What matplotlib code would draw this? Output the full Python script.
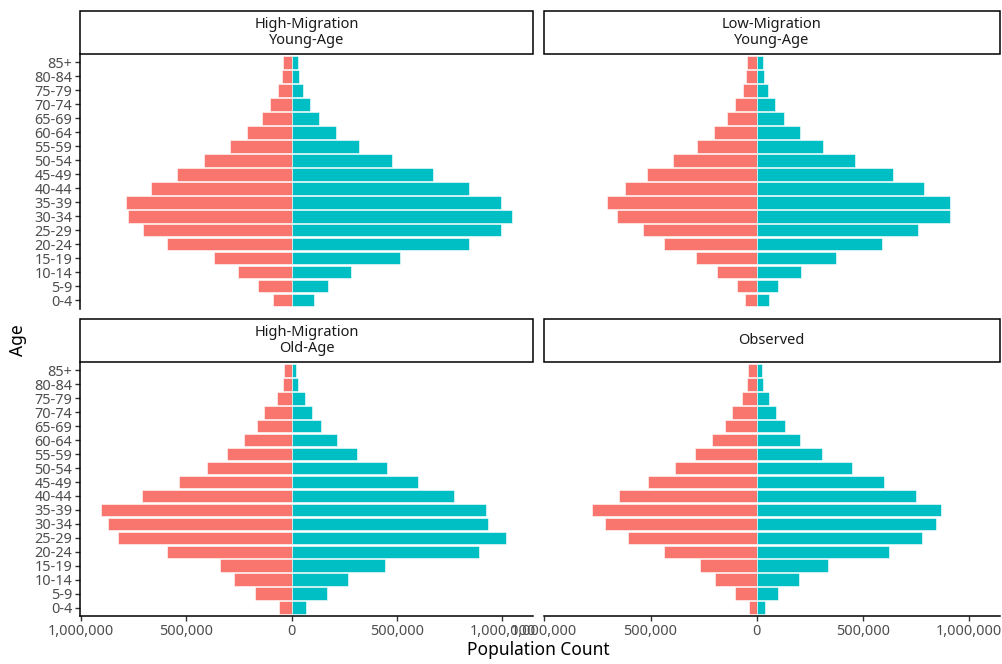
import numpy as np
import matplotlib
matplotlib.use("Agg")
import matplotlib.pyplot as plt
from matplotlib.patches import Rectangle
from matplotlib.ticker import FixedLocator, FuncFormatter

plt.rcParams["font.family"] = ["Noto Sans", "DejaVu Sans"]

age_groups = ["0-4", "5-9", "10-14", "15-19", "20-24", "25-29", "30-34", "35-39",
              "40-44", "45-49", "50-54", "55-59", "60-64", "65-69", "70-74",
              "75-79", "80-84", "85+"]

scenarios = ["High-Migration\nYoung-Age", "Low-Migration\nYoung-Age",
             "High-Migration\nOld-Age", "Observed"]

# Counts per age group (youngest first); left side of each pyramid, then right side
hm_young_left = [88000, 160000, 252000, 368000, 590000, 704000, 777000, 787000,
                 668000, 542000, 414000, 290000, 210000, 140000, 104000, 67000,
                 47000, 42000]
hm_young_right = [104000, 173000, 282000, 513000, 839000, 993000, 1047000, 993000,
                  840000, 669000, 477000, 321000, 210000, 130000, 86000, 54000,
                  34000, 28000]

lm_young_left = [54000, 95000, 187000, 284000, 438000, 537000, 657000, 706000,
                 621000, 517000, 395000, 281000, 203000, 138000, 102000, 67000,
                 49000, 48000]
lm_young_right = [59000, 100000, 208000, 371000, 590000, 760000, 910000, 908000,
                  789000, 640000, 462000, 313000, 203000, 127000, 84000, 51000,
                  33000, 29000]

hm_old_left = [59000, 174000, 274000, 342000, 590000, 823000, 871000, 906000,
               710000, 536000, 401000, 305000, 225000, 163000, 129000, 70000,
               42000, 34000]
hm_old_right = [68000, 169000, 265000, 445000, 888000, 1018000, 933000, 922000,
                772000, 598000, 451000, 311000, 213000, 138000, 96000, 62000,
                28000, 21000]

obs_left = [37000, 103000, 198000, 268000, 438000, 608000, 713000, 775000,
            646000, 513000, 387000, 290000, 213000, 149000, 116000, 68000,
            46000, 41000]
obs_right = [38000, 98000, 198000, 333000, 621000, 776000, 843000, 867000,
             751000, 597000, 446000, 308000, 205000, 132000, 89000, 56000,
             29000, 24000]

lefts = [hm_young_left, lm_young_left, hm_old_left, obs_left]
rights = [hm_young_right, lm_young_right, hm_old_right, obs_right]

left_color = "#F8766D"
right_color = "#00BFC4"

W, H = 1002, 664
fig = plt.figure(figsize=(W / 100, H / 100), dpi=100)

# panel boxes in pixels: (x0, x1, y_top, y_bottom)
col_x = [(80, 533), (543.5, 1000)]
row_y = [(54, 308.5), (362, 616)]
strip_h = 43

# shared x range with 5% expansion
all_vals = np.concatenate([-np.array(l) for l in lefts] + [np.array(r) for r in rights])
lo, hi = all_vals.min(), all_vals.max()
pad = 0.05 * (hi - lo)
xlim = (lo - pad, hi + pad)

n = len(age_groups)
ypos = np.arange(1, n + 1)
ticks = [-1_000_000, -500_000, 0, 500_000, 1_000_000]

text_gray = "#4D4D4D"

for i, name in enumerate(scenarios):
    r, c = divmod(i, 2)
    x0, x1 = col_x[c]
    yt, yb = row_y[r]
    ax = fig.add_axes([x0 / W, 1 - yb / H, (x1 - x0) / W, (yb - yt) / H])
    ax.barh(ypos, -np.array(lefts[i]), height=0.9, color=left_color,
            edgecolor="white", linewidth=0.4)
    ax.barh(ypos, rights[i], height=0.9, color=right_color,
            edgecolor="white", linewidth=0.4)
    ax.set_xlim(*xlim)
    ax.set_ylim(0.4, n + 0.6)
    for s in ax.spines.values():
        s.set_visible(False)

    ax.tick_params(axis="both", length=3.5, width=1.0, color="#333333",
                   labelsize=10.4, labelcolor=text_gray, pad=2)
    if c == 0:
        ax.spines["left"].set_visible(True)
        ax.spines["left"].set_linewidth(1.1)
        ax.set_yticks(ypos)
        ax.set_yticklabels(age_groups)
    else:
        ax.set_yticks([])
    if r == 1:
        ax.spines["bottom"].set_visible(True)
        ax.spines["bottom"].set_linewidth(1.1)
        ax.xaxis.set_major_locator(FixedLocator(ticks))
        ax.xaxis.set_major_formatter(FuncFormatter(lambda v, p: f"{abs(int(round(v))):,}"))
    else:
        ax.set_xticks([])

    # facet strip
    sx = x0 / W
    sy = 1 - yt / H
    rect = Rectangle((sx, sy), (x1 - x0) / W, strip_h / H, transform=fig.transFigure,
                     facecolor="white", edgecolor="black", linewidth=1.1, clip_on=False)
    fig.add_artist(rect)
    fig.text((x0 + x1) / 2 / W, 1 - (yt - strip_h / 2) / H, name, ha="center",
             va="center", fontsize=10.5, color="#1A1A1A", linespacing=1.15)

fig.text(538 / W, 1 - 650 / H, "Population Count", ha="center", va="center",
         fontsize=12.5, color="black")
fig.text(18 / W, 1 - 340 / H, "Age", ha="center", va="center", rotation=90,
         fontsize=12.5, color="black")

fig.savefig("out.png", dpi=100, facecolor="white")
